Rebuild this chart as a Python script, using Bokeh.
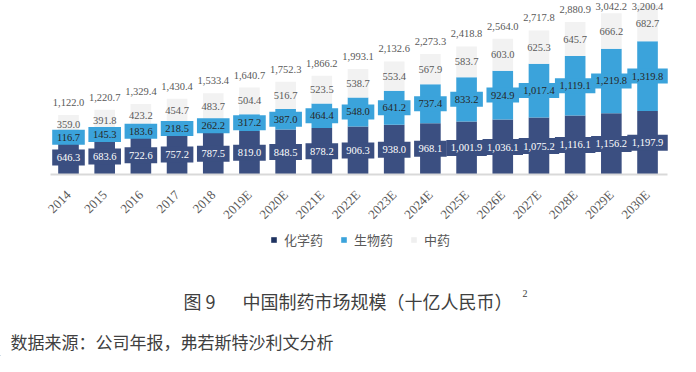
from bokeh.plotting import figure
from bokeh.models import (ColumnDataSource, LabelSet, Label, Legend, LegendItem, Range1d,
                          FixedTicker)
from bokeh.layouts import column
from bokeh.core.properties import value
from bokeh.embed import file_html
from bokeh.resources import INLINE

years = ["2014", "2015", "2016", "2017", "2018", "2019E", "2020E", "2021E", "2022E",
         "2023E", "2024E", "2025E", "2026E", "2027E", "2028E", "2029E", "2030E"]
chem = [646.3, 683.6, 722.6, 757.2, 787.5, 819.0, 848.5, 878.2, 906.3, 938.0, 968.1,
        1001.9, 1036.1, 1075.2, 1116.1, 1156.2, 1197.9]
bio = [116.7, 145.3, 183.6, 218.5, 262.2, 317.2, 387.0, 464.4, 548.0, 641.2, 737.4,
       833.2, 924.9, 1017.4, 1119.1, 1219.8, 1319.8]
tcm = [359.0, 391.8, 423.2, 454.7, 483.7, 504.4, 516.7, 523.5, 538.7, 553.4, 567.9,
       583.7, 603.0, 625.3, 645.7, 666.2, 682.7]
total = [1122.0, 1220.7, 1329.4, 1430.4, 1533.4, 1640.7, 1752.3, 1866.2, 1993.1, 2132.6,
         2273.3, 2418.8, 2564.0, 2717.8, 2880.9, 3042.2, 3200.4]
series_names = ["化学药", "生物药", "中药"]
caption_num = "图 9"
caption_main = "中国制药市场规模（十亿人民币）"
caption_note = "2"
source_text = "数据来源：公司年报，弗若斯特沙利文分析"

CHEM, BIO, TCM = "#3B4F81", "#3BA3DB", "#F2F2F2"
LEG_COLORS = ["#1F3361", BIO, "#EFEFEF"]
GRAY = "#595959"
SERIF_NAME = "Liberation Serif"
SERIF = value(SERIF_NAME)
CJK = "Noto Sans CJK SC"

FRAME_H = 180
Y_MAX = 3285
PX = Y_MAX / FRAME_H  # data units per pixel


def fmt(v):
    return "{:,.1f}".format(v)


def box_w(s):
    # approximate text width at 10.5px serif + padding
    return sum(5.25 if ch.isdigit() else 2.6 for ch in s) + 9


xi = list(range(len(years)))
src = ColumnDataSource(dict(
    x=xi, year=years, chem=chem, bio=bio, tcm=tcm, total=total,
    chem_mid=[c / 2 for c in chem],
    bio_mid=[c + b / 2 for c, b in zip(chem, bio)],
    tcm_mid=[c + b + t / 2 for c, b, t in zip(chem, bio, tcm)],
    # total label 13px above the bar, but kept inside the top of the chart
    tot_lab=[min(t + 13 * PX, Y_MAX - 6 * PX) for t in total],
    chem_t=[fmt(v) for v in chem], bio_t=[fmt(v) for v in bio],
    tcm_t=[fmt(v) for v in tcm], total_t=[fmt(v) for v in total],
    chem_w=[box_w(fmt(v)) for v in chem], bio_w=[box_w(fmt(v)) for v in bio],
))

# frame spans the full width: 36.19 px per category, first category at x=68 px
p = figure(x_range=Range1d(-1.879, 16.911), y_range=Range1d(0, Y_MAX), width=680,
           height=FRAME_H + 50, output_backend="svg", toolbar_location=None,
           y_axis_location=None,
           min_border_left=0, min_border_right=0, min_border_top=0, min_border_bottom=50)
p.outline_line_color = None
p.xgrid.visible = False
p.ygrid.visible = False
p.background_fill_color = None

p.vbar_stack(["chem", "bio", "tcm"], x="x", width=0.57, color=[CHEM, BIO, TCM],
             line_color=None, source=src)

p.rect(x="x", y="chem_mid", width="chem_w", height=16, width_units="screen",
       height_units="screen", fill_color=CHEM, line_color=None, source=src)
p.rect(x="x", y="bio_mid", width="bio_w", height=15, width_units="screen",
       height_units="screen", fill_color=BIO, line_color=None, source=src)

xa = p.xaxis[0]
xa.ticker = FixedTicker(ticks=xi)
xa.major_label_overrides = {i: y for i, y in zip(xi, years)}
xa.bounds = (-0.5, len(years) - 0.45)
xa.axis_line_color = "#D9D9D9"
xa.axis_line_width = 2
xa.major_tick_line_color = None
xa.minor_tick_line_color = None
xa.major_label_orientation = 0.785398
xa.major_label_text_font = SERIF_NAME
xa.major_label_text_font_size = "13px"
xa.major_label_text_color = GRAY
xa.major_label_standoff = 12


def add_labels(ycol, tcol, color):
    p.add_layout(LabelSet(x="x", y=ycol, text=tcol, source=src, text_align="center",
                          text_baseline="middle", text_font=SERIF, text_font_size="10.5px",
                          text_color=color))


add_labels("chem_mid", "chem_t", "white")
add_labels("bio_mid", "bio_t", "#262626")
add_labels("tcm_mid", "tcm_t", GRAY)
add_labels("tot_lab", "total_t", GRAY)

# lower panel: legend, caption, source
q = figure(x_range=Range1d(0, 680), y_range=Range1d(0, 126), width=680, height=126,
           output_backend="svg", toolbar_location=None,
           x_axis_location=None, y_axis_location=None,
           min_border_left=0, min_border_right=0, min_border_top=0, min_border_bottom=0)
q.grid.visible = False
q.outline_line_color = None
q.background_fill_color = None

# legend proxies drawn far outside the visible range
leg_rs = [q.vbar(x=[-1000], top=[1], bottom=0, width=1, fill_color=c, line_color=None)
          for c in LEG_COLORS]
legend = Legend(items=[LegendItem(label=n, renderers=[r]) for n, r in zip(series_names, leg_rs)],
                location=(270, 107), orientation="horizontal",
                glyph_width=7, glyph_height=7, label_height=14, label_standoff=7, spacing=17,
                padding=0, margin=0, border_line_color=None, background_fill_alpha=0,
                label_text_font=CJK, label_text_font_size="13px",
                label_text_color=GRAY, label_text_baseline="middle")
q.add_layout(legend)

q.add_layout(Label(x=183, y=56, text=caption_num, text_align="left", text_baseline="middle",
                   text_font=CJK, text_font_size="18px", text_color="#404040"))
q.add_layout(Label(x=377, y=56, text=caption_main, text_align="center", text_baseline="middle",
                   text_font=CJK, text_font_size="18px", text_color="#404040"))
q.add_layout(Label(x=522, y=63, text=caption_note, text_align="left", text_baseline="middle",
                   text_font=SERIF_NAME, text_font_size="10px", text_color="#404040"))
q.add_layout(Label(x=10, y=15, text=source_text, text_align="left", text_baseline="middle",
                   text_font=CJK, text_font_size="17px", text_color="#404040"))

layout = column(p, q, spacing=0)
open("out.html", "w").write(file_html(layout, INLINE))
